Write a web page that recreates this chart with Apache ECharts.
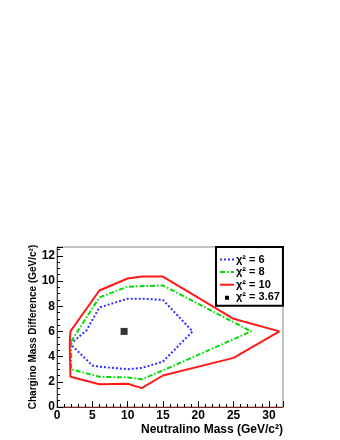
<!DOCTYPE html>
<html>
<head>
<meta charset="utf-8">
<script src="https://cdn.jsdelivr.net/npm/echarts@6/dist/echarts.min.js"></script>
<style>html,body{margin:0;padding:0;background:#fff;}#c{width:340px;height:440px;}</style>
</head>
<body>
<div id="c"></div>
<script>
// Contour data [neutralino mass, chargino mass difference]
const chi6 = [[1.9,5.0],[4.2,6.1],[6,7.9],[10,8.6],[12,8.6],[15,8.5],[19.2,6.0],[15,3.6],[12,3.1],[10,3.0],[6,3.2],[5,3.3],[1.9,5.0]];
const chi8 = [[2,5.2],[6,8.7],[10,9.55],[15,9.65],[27.5,6.0],[15,2.9],[12,2.2],[10,2.35],[6,2.4],[2,3.0],[2,5.2]];
const chi10 = [[1.9,6.0],[6,9.25],[10,10.2],[12,10.35],[15,10.35],[25,7.0],[31.5,6.0],[25,3.9],[15,2.5],[12,1.5],[10,1.85],[6,1.8],[1.9,2.4],[1.8,5.0],[1.9,6.0]];
const bestFit = [[9.5,6.0]];
const seriesNames = ['χ² = 6','χ² = 8','χ² = 10','χ² = 3.67'];
const xTitle = 'Neutralino Mass (GeV/c²)';
const yTitle = 'Chargino Mass Difference (GeV/c²)';

const FF = '"Liberation Sans", Arial, Helvetica, sans-serif';
const chart = echarts.init(document.getElementById('c'), null, {renderer:'canvas'});
const tickLabel = {fontSize:12, fontWeight:'bold', color:'#000', fontFamily:FF};
const dotted = [2,2], dashDot = [5,2,1.5,2];
const option = {
  animation:false,
  backgroundColor:'#fff',
  grid:{left:57,right:57,top:247,bottom:33,show:true,borderColor:'#888',borderWidth:1,backgroundColor:'transparent'},
  legend:{
    orient:'vertical', left:216, top:247,
    itemWidth:14, itemHeight:8, itemGap:1.6,
    padding:[7,3,3,3],
    borderColor:'#000', borderWidth:2, backgroundColor:'#fff',
    itemStyle:{opacity:0},
    textStyle:{fontSize:11, fontWeight:'bold', color:'#000', fontFamily:FF, padding:[0,0,0,-3]},
    data:[
      {name:seriesNames[0], lineStyle:{type:dotted,width:2}},
      {name:seriesNames[1], lineStyle:{type:dashDot,width:2}},
      {name:seriesNames[2], lineStyle:{type:'solid',width:2}},
      {name:seriesNames[3], itemStyle:{opacity:1, color:'#000'},
       icon:'path://M0,0L0.01,0L0.01,0.01Z M5,2.5h4v4h-4Z M14,8L13.99,8L13.99,7.99Z'}
    ]
  },
  xAxis:{
    type:'value', min:0, max:32, interval:5,
    axisLine:{show:true,onZero:false,lineStyle:{color:'#7a2424',width:1}},
    axisTick:{show:true,inside:true,length:6,lineStyle:{color:'#000'}},
    minorTick:{show:true,splitNumber:5,length:3,lineStyle:{color:'#000'}},
    splitLine:{show:false},
    axisLabel:Object.assign({margin:3, showMaxLabel:false}, tickLabel),
    name:xTitle, nameLocation:'end', nameGap:0,
    nameTextStyle:{align:'right', verticalAlign:'top', padding:[17,0,0,0], fontSize:12, fontWeight:'bold', color:'#000', fontFamily:FF}
  },
  yAxis:[{
    type:'value', min:0, max:12.7, interval:2,
    axisLine:{show:true,onZero:false,lineStyle:{color:'#888',width:1}},
    axisTick:{show:true,inside:true,length:6,lineStyle:{color:'#000'}},
    minorTick:{show:true,splitNumber:4,length:3,lineStyle:{color:'#000'}},
    splitLine:{show:false},
    axisLabel:Object.assign({margin:2, showMaxLabel:false}, tickLabel),
    name:yTitle, nameLocation:'middle', nameGap:19, nameMoveOverlap:false,
    nameTextStyle:{fontSize:10, fontWeight:'bold', color:'#000', fontFamily:FF}
  },{
    type:'value', position:'right', min:0, max:12.7,
    axisLine:{show:true,lineStyle:{color:'#7a2424',width:1}},
    axisTick:{show:false}, axisLabel:{show:false}, splitLine:{show:false}
  }],
  series:[
    {name:seriesNames[0], type:'line', data:chi6, symbol:'none', color:'#3030ff',
     lineStyle:{color:'#3030ff', width:2, type:dotted}},
    {name:seriesNames[1], type:'line', data:chi8, symbol:'none', color:'#00dd00',
     lineStyle:{color:'#00dd00', width:2, type:dashDot}},
    {name:seriesNames[2], type:'line', data:chi10, symbol:'none', color:'#ff1a1a',
     lineStyle:{color:'#ff1a1a', width:2, type:'solid'}},
    {name:seriesNames[3], type:'scatter', data:bestFit, symbol:'rect', symbolSize:7,
     itemStyle:{color:'#000'}}
  ]
};
chart.setOption(option);
</script>
</body>
</html>
